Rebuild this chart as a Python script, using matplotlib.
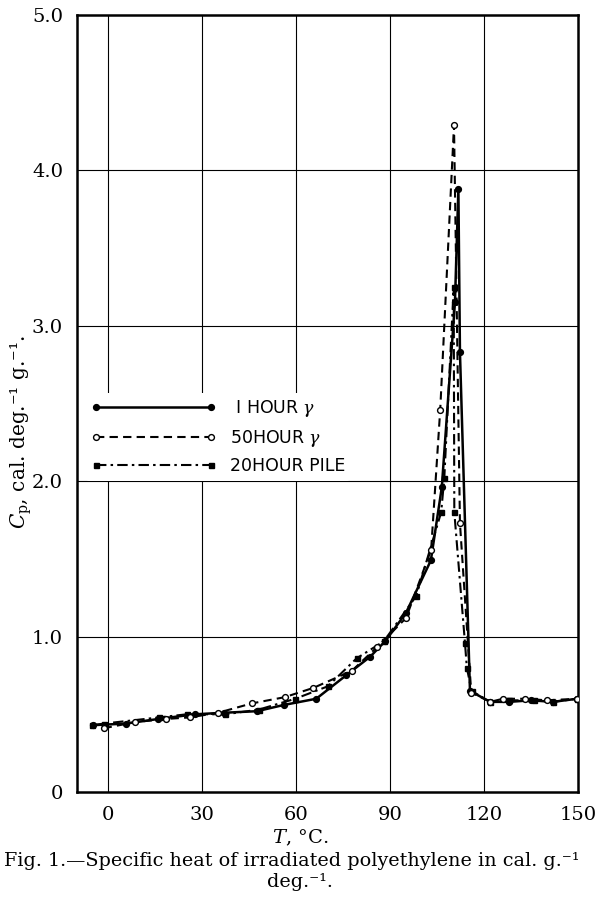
import numpy as np
import matplotlib.pyplot as plt
from matplotlib.lines import Line2D

# 1 HOUR gamma (filled circles, solid)
t_1h = [-5, 5.5, 16, 27.6, 37, 47.5, 56, 66.4, 75.9, 83.6, 88.4, 95, 103, 106.5,
        110.7, 111.8, 112.3, 115.5, 122, 128, 135, 142, 149.7]
cp_1h = [0.43, 0.44, 0.47, 0.50, 0.51, 0.52, 0.56, 0.60, 0.75, 0.87, 0.97, 1.15, 1.49, 1.96,
         3.15, 3.88, 2.83, 0.65, 0.58, 0.58, 0.59, 0.58, 0.60]

# 50 HOUR gamma (open circles, dashed)
t_50h = [-1.5, 8.6, 18.4, 26, 35.1, 45.8, 56.3, 65.5, 77.8, 85.7, 95.1, 103.1, 106,
         110.4, 112.3, 115.9, 122, 126, 133, 140, 149.7]
cp_50h = [0.41, 0.45, 0.47, 0.48, 0.51, 0.57, 0.61, 0.67, 0.78, 0.93, 1.12, 1.56, 2.46,
          4.29, 1.73, 0.64, 0.58, 0.60, 0.60, 0.59, 0.60]

# 20 HOUR PILE (squares, dash-dot)
t_20p = [-5.2, -1.5, 16.2, 25, 37.4, 48, 59.7, 70.1, 79.3, 88, 98.3, 106.3, 107.3,
         110.3, 110.5, 113.9, 114.5, 116, 122, 128, 136, 142, 149.7]
cp_20p = [0.43, 0.44, 0.48, 0.50, 0.50, 0.53, 0.60, 0.68, 0.86, 0.97, 1.26, 1.80, 2.02,
          3.25, 1.80, 0.96, 0.80, 0.65, 0.58, 0.59, 0.59, 0.58, 0.60]

xticks = [0, 30, 60, 90, 120, 150]
yticks = [0, 1, 2, 3, 4, 5]
ytick_labels = ['0', '1.0', '2.0', '3.0', '4.0', '5.0']

plt.rcParams['font.family'] = ['DejaVu Serif']
plt.rcParams['mathtext.fontset'] = 'dejavuserif'

fig = plt.figure(figsize=(5.97, 8.98), dpi=100)
ax = fig.add_axes([77 / 597, 1 - 792 / 898, 501 / 597, 777 / 898])
ax.set_xlim(-10, 150)
ax.set_ylim(0, 5)

for v in xticks[:-1]:
    ax.axvline(v, color='black', lw=0.8, zorder=1)
for v in yticks[1:-1]:
    ax.axhline(v, color='black', lw=0.8, zorder=1)

solid = dict(color='black', lw=1.8, ls='-', marker='o', ms=4.2, mfc='black', mec='black')
dashed = dict(color='black', lw=1.5, ls=(0, (4, 2.5)), marker='o', ms=4.2,
              mfc='white', mec='black', mew=1.0)
dashdot = dict(color='black', lw=1.5, ls=(0, (5, 2, 1.2, 2)), marker='s', ms=3.6,
               mfc='black', mec='black')

ax.plot(t_1h, cp_1h, zorder=3, **solid)
ax.plot(t_50h, cp_50h, zorder=4, **dashed)
ax.plot(t_20p, cp_20p, zorder=3, **dashdot)

ax.set_xticks(xticks)
ax.set_yticks(yticks)
ax.set_yticklabels(ytick_labels)
ax.tick_params(length=0, labelsize=14, pad=10)
for s in ax.spines.values():
    s.set_linewidth(1.8)

handles = [Line2D([], [], **solid), Line2D([], [], **dashed), Line2D([], [], **dashdot)]
labels = [' I HOUR $\\gamma$', '50HOUR $\\gamma$', '20HOUR PILE']
leg = ax.legend(handles, labels, loc='upper left', bbox_to_anchor=(0.0, 0.525),
                frameon=True, edgecolor='none', facecolor='white', framealpha=1,
                handlelength=7.2, numpoints=2, handletextpad=0.8, labelspacing=0.5,
                borderpad=0.3, prop={'family': 'DejaVu Sans', 'size': 12.5})

fig.text(300 / 597, 1 - 838 / 898, '$T$, °C.', ha='center', va='center', fontsize=14)
fig.text(21 / 597, 1 - 432 / 898, '$C_{\\mathrm{p}}$, cal. deg.⁻¹ g.⁻¹.',
         ha='center', va='center', rotation=90, fontsize=14.5)
fig.text(4 / 597, 1 - 861 / 898,
         'Fig. 1.—Specific heat of irradiated polyethylene in cal. g.⁻¹',
         ha='left', va='center', fontsize=13.8)
fig.text(300 / 597, 1 - 882 / 898, 'deg.⁻¹.', ha='center', va='center', fontsize=13.8)

fig.savefig('out.png', dpi=100)
